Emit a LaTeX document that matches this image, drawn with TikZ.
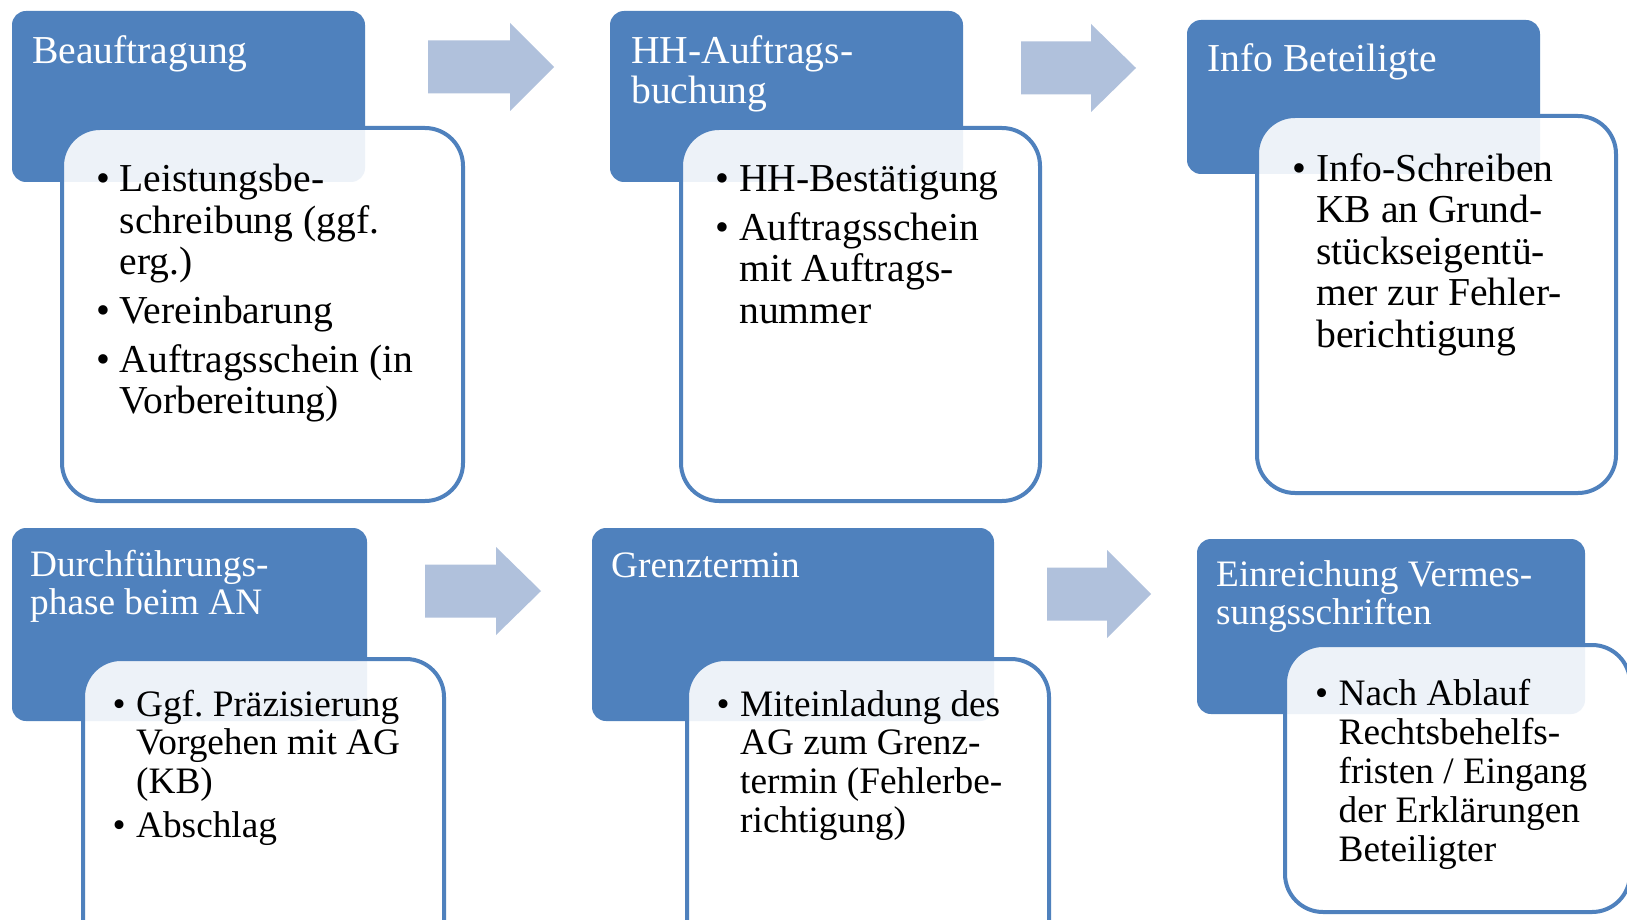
\documentclass[tikz,border=0pt]{standalone}
\usepackage{fontspec}
\setmainfont{Liberation Serif}
\frenchspacing
\definecolor{hdrblue}{HTML}{4F81BD}
\definecolor{arrowblue}{HTML}{B0C1DC}
\newlength{\bw}
\setlength{\bw}{23.5pt}
\newcommand\bul{\makebox[\bw][l]{\textbullet}}
\newcommand\ind{\hspace*{\bw}}
\newcommand\rowAfont{\fontsize{39.6}{41.5}\selectfont}
\newcommand\rowAhfont{\fontsize{39.6}{40}\selectfont}
\newcommand\rowBfont{\fontsize{37.3}{38.9}\selectfont}
\newcommand\rowBhfont{\fontsize{37.3}{38.4}\selectfont}
\newcommand\flowarr[4]{\fill[flowarrow] (#1,#4-26.5) -- (#2,#4-26.5) -- (#2,#4-44) -- (#3,#4) -- (#2,#4+44) -- (#2,#4+26.5) -- (#1,#4+26.5) -- cycle;}
\begin{document}
\begin{tikzpicture}[x=1pt,y=-1pt,
  hdrbox/.style={fill=hdrblue, draw=none, rounded corners=14pt, anchor=north west, inner sep=0pt, outer sep=0pt},
  bodybox/.style={draw=hdrblue, line width=4pt, fill=white, fill opacity=0.9, draw opacity=1, rounded corners=38pt, anchor=north west, inner sep=0pt, outer sep=0pt},
  hdrtext/.style={anchor=base west, inner sep=0pt, text=white, text width=440pt, align=flush left, execute at begin node=\frenchspacing},
  bodytext/.style={anchor=base west, inner sep=0pt, text=black, text width=440pt, align=flush left, execute at begin node=\frenchspacing},
  flowarrow/.style={fill=arrowblue}]
\useasboundingbox (0,0) rectangle (1627,920);
\clip (0,0) rectangle (1627,920);
\fill[white] (0,0) rectangle (1627,920);

% headers
\node[hdrbox, minimum width=353pt, minimum height=171pt] (H1) at (12,11) {};
\node[hdrbox, minimum width=353pt, minimum height=171pt] (H2) at (610,11) {};
\node[hdrbox, minimum width=353pt, minimum height=154pt] (H3) at (1187,20) {};
\node[hdrbox, minimum width=355pt, minimum height=193pt] (H4) at (12,528) {};
\node[hdrbox, minimum width=402pt, minimum height=193pt] (H5) at (592,528) {};
\node[hdrbox, minimum width=388pt, minimum height=175pt] (H6) at (1197,539) {};

% body boxes
\node[bodybox, minimum width=401pt, minimum height=373pt] (B1) at (62,128) {};
\node[bodybox, minimum width=359pt, minimum height=373pt] (B2) at (681,128) {};
\node[bodybox, minimum width=359pt, minimum height=377pt] (B3) at (1257,116) {};
\node[bodybox, minimum width=361pt, minimum height=300pt] (B4) at (83,659) {};
\node[bodybox, minimum width=362pt, minimum height=300pt] (B5) at (687,659) {};
\node[bodybox, minimum width=345pt, minimum height=267pt] (B6) at (1285,645) {};

% arrows
\flowarr{428}{510}{554}{67}
\flowarr{1021}{1091}{1136}{68}
\flowarr{425}{496}{541}{591}
\flowarr{1047}{1107}{1151}{594}

% header texts
\node[hdrtext, font=\rowAhfont] (T1) at (32,64) {Beauftragung};
\node[hdrtext, font=\rowAhfont] (T2) at (631,64) {HH-Auftrags-\\buchung};
\node[hdrtext, font=\rowAhfont] (T3) at (1207,72) {Info Beteiligte};
\node[hdrtext, font=\rowBhfont] (T4) at (30,576) {Durchführungs-\\phase beim AN};
\node[hdrtext, font=\rowBhfont] (T5) at (611,577) {Grenztermin};
\node[hdrtext, font=\rowBhfont] (T6) at (1216,586) {Einreichung Vermes-\\sungsschriften};

% body texts
\node[bodytext, font=\rowAfont] (L1) at (96,192) {\bul Leistungsbe-\\\ind schreibung (ggf.\\\ind erg.)\\[7pt]\bul Vereinbarung\\[7pt]\bul Auftragsschein (in\\\ind Vorbereitung)};
\node[bodytext, font=\rowAfont] (L2) at (715.5,192) {\bul HH-Bestätigung\\[7pt]\bul Auftragsschein\\\ind mit Auftrags-\\\ind nummer};
\node[bodytext, font=\rowAfont] (L3) at (1292.5,181.5) {\bul Info-Schreiben\\\ind KB an Grund-\\\ind stückseigentü-\\\ind mer zur Fehler-\\\ind berichtigung};
\node[bodytext, font=\rowBfont] (L4) at (112.5,716) {\bul Ggf. Präzisierung\\\ind Vorgehen mit AG\\\ind (KB)\\[5pt]\bul Abschlag};
\node[bodytext, font=\rowBfont] (L5) at (716.5,716) {\bul Miteinladung des\\\ind AG zum Grenz-\\\ind termin (Fehlerbe-\\\ind richtigung)};
\node[bodytext, font=\rowBfont] (L6) at (1315,705.5) {\bul Nach Ablauf\\\ind Rechtsbehelfs-\\\ind fristen / Eingang\\\ind der Erklärungen\\\ind Beteiligter};
\end{tikzpicture}
\end{document}
